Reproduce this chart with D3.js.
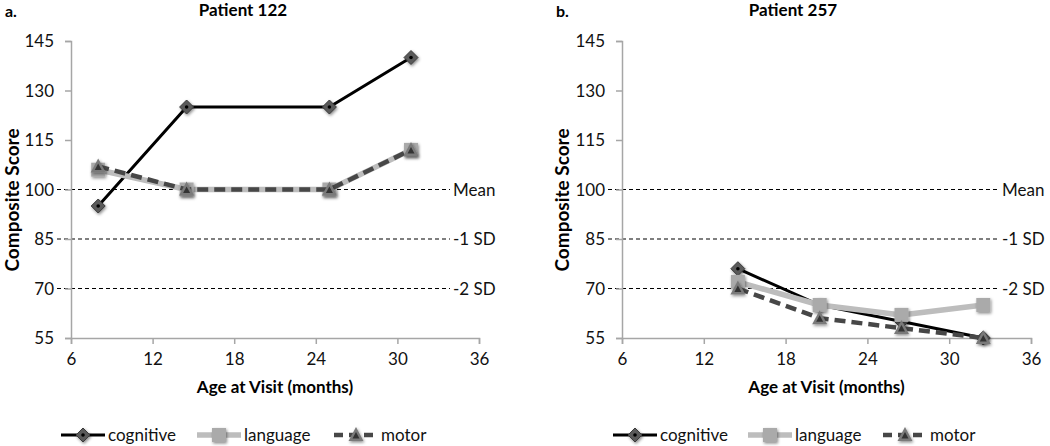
<!DOCTYPE html>
<html><head><meta charset="utf-8">
<script src="https://cdn.jsdelivr.net/npm/d3@7"></script>
<style>
body{margin:0;background:#fff;}
text{font-family:Lato,"Open Sans",sans-serif;}
</style></head>
<body><svg id="c" width="1050" height="446"></svg>
<script>
const xTicks = [6, 12, 18, 24, 30, 36];
const yTicks = [55, 70, 85, 100, 115, 130, 145];
const refValues = [100, 85, 70];
const refLabels = ["Mean", "-1 SD", "-2 SD"];
const seriesNames = ["cognitive", "language", "motor"];

const p122Age = [8, 14.5, 25, 31];
const p122Cognitive = [95, 125, 125, 140];
const p122Language = [106, 100, 100, 112];
const p122Motor = [107, 100, 100, 112];

const p257Age = [14.5, 20.5, 26.5, 32.5];
const p257Cognitive = [76, 65, 60, 55];
const p257Language = [72, 65, 62, 65];
const p257Motor = [70, 61, 58, 55];

const svg = d3.select("#c");
const defs = svg.append("defs");
const f = defs.append("filter").attr("id","sh").attr("x","-50%").attr("y","-50%").attr("width","200%").attr("height","200%");
f.append("feDropShadow").attr("dx",1).attr("dy",1.5).attr("stdDeviation",1.6).attr("flood-color","#000").attr("flood-opacity",0.45);

const styles = {
  cognitive:{stroke:"#000", width:3, dash:null},
  language:{stroke:"#bdbdbd", width:5.5, dash:null},
  motor:{stroke:"#474747", width:4.5, dash:"11,6"}
};

function marker(g, name, x, y){
  if(name==="cognitive"){
    g.append("path").attr("d",`M${x},${y-7}L${x+7},${y}L${x},${y+7}L${x-7},${y}Z`)
      .attr("fill","#5a5a5a").attr("stroke","#3a3a3a").attr("stroke-width",1).attr("filter","url(#sh)");
    g.append("circle").attr("cx",x).attr("cy",y).attr("r",1.8).attr("fill","#000");
  } else if(name==="language"){
    g.append("rect").attr("x",x-7).attr("y",y-7).attr("width",14).attr("height",14)
      .attr("fill","#aaaaaa").attr("filter","url(#sh)");
  } else {
    g.append("path").attr("d",`M${x},${y-8}L${x+7.5},${y+6}L${x-7.5},${y+6}Z`)
      .attr("fill","#7a7a7a").attr("filter","url(#sh)");
    g.append("path").attr("d",`M${x},${y-3}L${x+3.5},${y+3.5}L${x-3.5},${y+3.5}Z`)
      .attr("fill","#333");
  }
}

function panel(opt){
  const g = svg.append("g");
  const x = d3.scaleLinear().domain([6,36]).range([opt.x0, opt.x1]);
  const y = d3.scaleLinear().domain([55,145]).range([338, 41]);

  g.append("text").attr("x",opt.tagX).attr("y",17).attr("font-weight","bold").attr("font-size",16).text(opt.tag);
  g.append("text").attr("x",opt.titleX).attr("y",16).attr("text-anchor","middle").attr("font-weight","bold").attr("font-size",17).text(opt.title);

  refValues.forEach((v,i)=>{
    g.append("line").attr("x1",opt.refX0).attr("x2",opt.refX1).attr("y1",y(v)).attr("y2",y(v))
      .attr("stroke","#000").attr("stroke-width",1.1).attr("stroke-dasharray","4,3");
    g.append("text").attr("x",opt.refX1+3).attr("y",y(v)+6).attr("font-size",17).attr("fill","#111").text(refLabels[i]);
  });

  const ya = d3.axisLeft(y).tickValues(yTicks).tickSize(6).tickPadding(11);
  const yg = g.append("g").attr("transform",`translate(${opt.x0},0)`).call(ya);
  const xa = d3.axisBottom(x).tickValues(xTicks).tickSize(6).tickPadding(6);
  const xg = g.append("g").attr("transform",`translate(0,338)`).call(xa);
  [yg,xg].forEach(a=>{
    a.select(".domain").attr("stroke","#a6a6a6").attr("stroke-width",1.5);
    a.selectAll(".tick line").attr("stroke","#a6a6a6").attr("stroke-width",1.5);
    a.selectAll(".tick text").attr("font-size",17).attr("fill","#111").style("font-family","Lato,'Open Sans',sans-serif");
  });
  yg.selectAll(".tick text").attr("dy","0.35em");
  xg.selectAll(".tick text").attr("dy","0.9em");

  g.append("text").attr("x",(opt.x0+opt.x1)/2).attr("y",393).attr("text-anchor","middle").attr("font-weight","bold").attr("font-size",17).text("Age at Visit (months)");
  g.append("text").attr("transform",`translate(${opt.yLabX},200) rotate(-90)`).attr("text-anchor","middle").attr("font-weight","bold").attr("font-size",19).text("Composite Score");

  const data = {cognitive:opt.cog, language:opt.lang, motor:opt.mot};
  const line = d3.line().x(d=>x(d[0])).y(d=>y(d[1]));
  seriesNames.forEach(n=>{
    const pts = opt.age.map((a,i)=>[a,data[n][i]]);
    const s = styles[n];
    g.append("path").attr("d",line(pts)).attr("fill","none").attr("stroke",s.stroke).attr("stroke-width",s.width)
      .attr("stroke-dasharray",s.dash).attr("stroke-linejoin","round");
    opt.age.forEach((a,i)=>marker(g,n,x(a),y(data[n][i])));
  });

  seriesNames.forEach((n,i)=>{
    const lx = opt.legX[i], ly = 435;
    const s = styles[n];
    g.append("line").attr("x1",lx).attr("x2",lx+44).attr("y1",ly).attr("y2",ly).attr("stroke",s.stroke).attr("stroke-width",s.width).attr("stroke-dasharray",n==="motor"?"9,6":null);
    marker(g,n,lx+22,ly);
    g.append("text").attr("x",lx+47).attr("y",ly+6).attr("font-size",17).attr("fill","#111").text(n);
  });
}

panel({x0:71,x1:479,tag:"a.",tagX:5,title:"Patient 122",titleX:243,refX0:57,refX1:450,yLabX:19,
  age:p122Age,cog:p122Cognitive,lang:p122Language,mot:p122Motor,legX:[61,197,334]});
panel({x0:622,x1:1031,tag:"b.",tagX:556,title:"Patient 257",titleX:793,refX0:608,refX1:999,yLabX:569,
  age:p257Age,cog:p257Cognitive,lang:p257Language,mot:p257Motor,legX:[613,748,883]});
</script></body></html>
